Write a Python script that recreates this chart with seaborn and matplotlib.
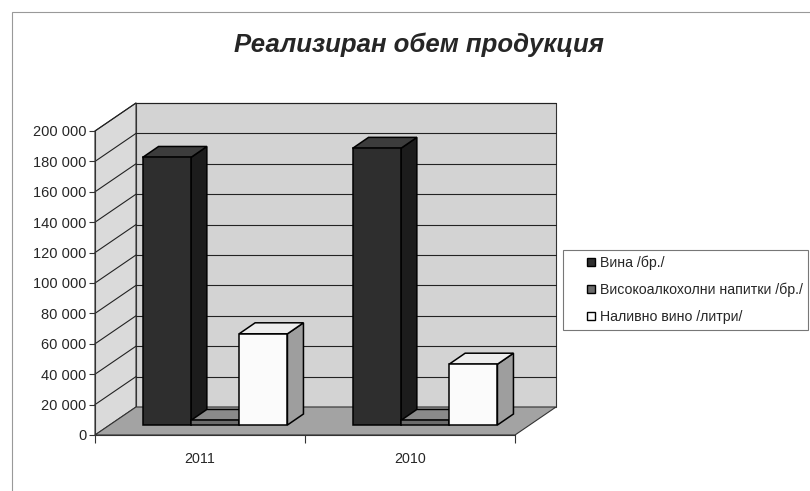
import numpy as np
import pandas as pd
import matplotlib
matplotlib.use("Agg")
import matplotlib.pyplot as plt
from matplotlib.patches import Polygon, Rectangle
from matplotlib.lines import Line2D
from matplotlib.ticker import FuncFormatter, FixedLocator
from matplotlib.transforms import ScaledTranslation, IdentityTransform
import seaborn as sns

years = ["2011", "2010"]
series = ["Вина /бр./", "Високоалкохолни напитки /бр./", "Наливно вино /литри/"]
vina = [176000, 182000]
visoko = [3000, 3000]
nalivno = [60000, 40000]
title = "Реализиран обем продукция"

df = pd.DataFrame({
    "year": years * 3,
    "series": [series[0]] * 2 + [series[1]] * 2 + [series[2]] * 2,
    "value": vina + visoko + nalivno,
})

sns.set_style("white")
plt.rcParams["font.family"] = ["Liberation Sans", "DejaVu Sans"]

colors = ["#2e2e2e", "#6b6b6b", "#fbfbfb"]
side_colors = ["#1c1c1c", "#4a4a4a", "#9e9e9e"]
top_colors = ["#3c3c3c", "#8a8a8a", "#ededed"]

DPI = 100
fig = plt.figure(figsize=(8.1, 4.91), dpi=DPI)
ax = fig.add_axes([95 / 810, 1 - 435 / 491, (515 - 95) / 810, (435 - 131) / 491])

sns.barplot(data=df, x="year", y="value", hue="series", palette=colors,
            order=years, hue_order=series, width=0.69, saturation=1,
            edgecolor="black", linewidth=1.1, ax=ax, legend=False)
bars = [p for p in ax.patches if isinstance(p, Rectangle)]

ax.set_ylim(0, 200000)
ax.set_xlim(-0.5, 1.5)
ax.patch.set_visible(False)
ax.yaxis.set_major_locator(plt.MultipleLocator(20000))
ax.yaxis.set_major_formatter(FuncFormatter(lambda v, p: f"{int(v):,}".replace(",", " ")))
ax.xaxis.set_minor_locator(FixedLocator([-0.5, 0.5, 1.5]))
ax.set_xlabel("")
ax.set_ylabel("")
for s in ["top", "right"]:
    ax.spines[s].set_visible(False)
for s in ["left", "bottom"]:
    ax.spines[s].set_color("#333333")
    ax.spines[s].set_linewidth(0.8)
    ax.spines[s].set_zorder(6)
ax.tick_params(axis="y", length=4, width=0.8, labelsize=10.5, color="#333333", left=True, pad=2)
ax.tick_params(axis="x", which="major", length=0, labelsize=10.3, pad=12)
ax.tick_params(axis="x", which="minor", length=6, width=0.8, color="#333333", bottom=True)

fig.canvas.draw()

# 3D-like walls and floor, derived from the axes
DX, DY = 41, 28          # full depth of the chart box (pixels)
BOX, BOY = 15, 10        # offset of bar front faces into the depth
BDX, BDY = 16, 11        # depth of the bars


def A(x, y, dx=0, dy=0):
    px, py = ax.transAxes.transform((x, y))
    return (px + dx, py + dy)


def D(x, y, dx=0, dy=0):
    px, py = ax.transData.transform((x, y))
    return (px + dx, py + dy)


def add_poly(pts, fc, ec="#333333", lw=0.8, z=0.5):
    p = Polygon(pts, closed=True, facecolor=fc, edgecolor=ec, linewidth=lw,
                transform=IdentityTransform(), zorder=z, clip_on=False)
    ax.add_artist(p)


add_poly([A(0, 0, DX, DY), A(1, 0, DX, DY), A(1, 1, DX, DY), A(0, 1, DX, DY)], "#d3d3d3", z=0.1)
add_poly([A(0, 0), A(0, 0, DX, DY), A(0, 1, DX, DY), A(0, 1)], "#dadada", z=0.2)
add_poly([A(0, 0), A(1, 0), A(1, 0, DX, DY), A(0, 0, DX, DY)], "#a3a3a3", z=0.4)

for v in ax.get_yticks():
    if v <= 0 or v > 200000:
        continue
    x0, y0 = D(-0.5, v, DX, DY)
    x1, y1 = D(1.5, v, DX, DY)
    ax.add_artist(Line2D([x0, x1], [y0, y1], color="#222222", linewidth=0.8,
                         transform=IdentityTransform(), zorder=0.3, clip_on=False))
    a0 = D(-0.5, v)
    a1 = D(-0.5, v, DX, DY)
    ax.add_artist(Line2D([a0[0], a1[0]], [a0[1], a1[1]], color="#222222", linewidth=0.8,
                         transform=IdentityTransform(), zorder=0.3, clip_on=False))

# bars with depth
shift = ScaledTranslation(BOX / DPI, BOY / DPI, fig.dpi_scale_trans)
order = sorted(range(len(bars)), key=lambda i: bars[i].get_x())
for rank, i in enumerate(order):
    b = bars[i]
    k = i // 2
    x0, y0 = b.get_x(), b.get_y()
    x1, y1 = x0 + b.get_width(), y0 + b.get_height()
    z = 2 + rank * 0.1
    b.set_transform(ax.transData + shift)
    b.set_zorder(z + 0.05)
    b.set_clip_on(False)
    add_poly([D(x1, y0, BOX, BOY), D(x1, y0, BOX + BDX, BOY + BDY),
              D(x1, y1, BOX + BDX, BOY + BDY), D(x1, y1, BOX, BOY)],
             side_colors[k], ec="black", lw=1.1, z=z)
    add_poly([D(x0, y1, BOX, BOY), D(x0, y1, BOX + BDX, BOY + BDY),
              D(x1, y1, BOX + BDX, BOY + BDY), D(x1, y1, BOX, BOY)],
             top_colors[k], ec="black", lw=1.1, z=z)

fig.text(419 / 810, 1 - 45 / 491, title, ha="center", va="center",
         fontsize=18.5, fontstyle="italic", fontweight="bold")

handles = [Line2D([0], [0], linestyle="none", marker="s", markersize=6,
                  markerfacecolor=c, markeredgecolor="black", markeredgewidth=1.0) for c in colors]
leg = fig.legend(handles, series, loc="upper left", bbox_to_anchor=(563 / 810, 1 - 250 / 491),
                 frameon=True, fontsize=10.2, handlelength=3.2, handletextpad=-1.0,
                 borderpad=0.4, borderaxespad=0, labelspacing=0.9, fancybox=False)
leg.get_frame().set_edgecolor("#555555")
leg.get_frame().set_linewidth(0.8)

fig.patches.append(Rectangle((12 / 810, -0.05), 1.1, 1 - 12 / 491 + 0.05, transform=fig.transFigure,
                             fill=False, edgecolor="#999999", linewidth=0.8))

fig.savefig("out.png", dpi=DPI)
